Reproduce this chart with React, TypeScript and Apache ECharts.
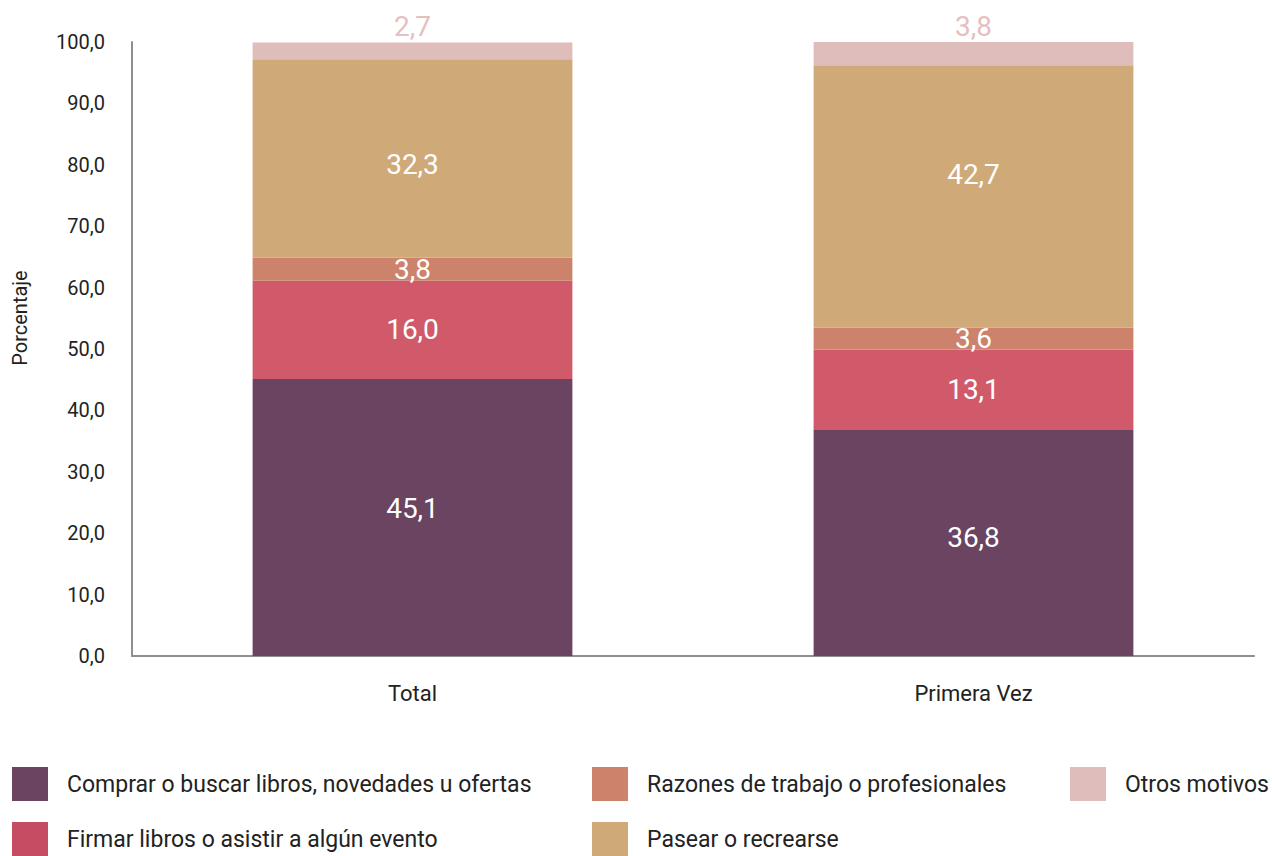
import React, { useEffect, useRef } from "react";
import * as echarts from "echarts";

const categories = ["Total", "Primera Vez"];
const seriesNames = [
  "Comprar o buscar libros, novedades u ofertas",
  "Firmar libros o asistir a algún evento",
  "Razones de trabajo o profesionales",
  "Pasear o recrearse",
  "Otros motivos",
];
const comprar = [45.1, 36.8];
const firmar = [16.0, 13.1];
const razones = [3.8, 3.6];
const pasear = [32.3, 42.7];
const otros = [2.7, 3.8];
const colors = ["#6a4460", "#d15a6a", "#cc826b", "#cfa977", "#dfbdbb"];
const legendColors = ["#6a4460", "#c44c63", "#cc826b", "#cfa977", "#dfbdbb"];
const yTicks = { min: 0, max: 100, interval: 10 };

// label vertical nudges (style only), per series per category
const labelNudge = [
  [-9, -6],
  [0, 0],
  [0, 0],
  [6, -22],
  [0, 0],
];
// legend slot positions (layout only)
const legendSlots = [
  { left: 12, top: 767 },
  { left: 12, top: 822 },
  { left: 592, top: 767 },
  { left: 592, top: 822 },
  { left: 1070, top: 767 },
];

const FONT = "Roboto, 'Noto Sans', sans-serif";
const fmt = (v: number) => v.toFixed(1).replace(".", ",");

export default function App() {
  const ref = useRef<HTMLDivElement>(null);
  useEffect(() => {
    if (!ref.current) return;
    const chart = echarts.init(ref.current, undefined, { renderer: "svg" });
    const values = [comprar, firmar, razones, pasear, otros];
    const series = values.map((vals, i) => ({
      name: seriesNames[i],
      type: "bar",
      stack: "total",
      barWidth: "57%",
      data: vals.map((v, j) => ({
        value: v,
        label: { offset: [0, labelNudge[i][j]] },
      })),
      itemStyle: { color: colors[i] },
      label: {
        show: true,
        position: i === 4 ? "top" : "inside",
        distance: 2,
        color: i === 4 ? "#e6bfc0" : "#ffffff",
        fontSize: 28,
        fontFamily: FONT,
        formatter: (p: any) => fmt(p.value),
      },
    }));
    const legends = seriesNames.map((name, i) => ({
      orient: "horizontal",
      left: legendSlots[i].left,
      top: legendSlots[i].top,
      padding: 0,
      itemWidth: 36,
      itemHeight: 34,
      icon: "rect",
      selectedMode: false,
      textStyle: { fontSize: 23, color: "#222", fontFamily: FONT, padding: [0, 0, 0, 14] },
      data: [{ name, itemStyle: { color: legendColors[i] } }],
    }));
    chart.setOption({
      animation: false,
      textStyle: { fontFamily: FONT },
      grid: { left: 132, right: 18, top: 42, bottom: 200 },
      legend: legends,
      graphic: [
        {
          type: "text",
          x: 20,
          y: 318,
          rotation: Math.PI / 2,
          style: {
            text: "Porcentaje",
            fill: "#222",
            fontSize: 20,
            fontFamily: FONT,
            align: "center",
            verticalAlign: "middle",
          },
        },
      ],
      xAxis: {
        type: "category",
        data: categories,
        axisLine: { show: true, lineStyle: { color: "#8c8f93", width: 2 } },
        axisTick: { show: false },
        axisLabel: { fontSize: 22, color: "#222", margin: 26, fontFamily: FONT },
      },
      yAxis: {
        type: "value",
        min: yTicks.min,
        max: yTicks.max,
        interval: yTicks.interval,
        axisLine: { show: true, lineStyle: { color: "#8c8f93", width: 2 } },
        axisTick: { show: false },
        splitLine: { show: false },
        axisLabel: {
          fontSize: 20,
          color: "#222",
          margin: 27,
          fontFamily: FONT,
          formatter: (v: number) => fmt(v),
        },
      },
      series,
    });
    return () => chart.dispose();
  }, []);
  return (
    <div
      ref={ref}
      style={{ position: "fixed", left: 0, top: 0, width: 1272, height: 856, background: "#fff" }}
    />
  );
}
